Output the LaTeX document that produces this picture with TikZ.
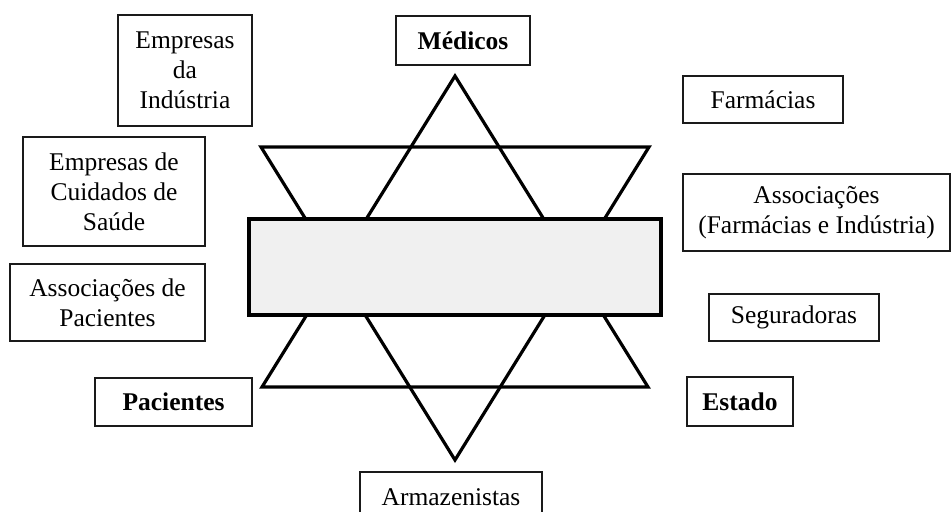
\documentclass[tikz,border=0pt]{standalone}
\usepackage{fontspec}
\setmainfont{Liberation Serif}
\definecolor{panelgray}{HTML}{F0F0F0}
\definecolor{edge}{HTML}{1A1A1A}
\begin{document}
\begin{tikzpicture}[x=1pt,y=-1pt,
  box/.style={draw=edge, line width=1.8pt, align=center, inner sep=0pt,
    font=\fontsize{25.5}{30}\selectfont},
  starline/.style={line width=3.2pt, line join=miter},
]
\clip (0,0) rectangle (952,511);
\fill[white] (0,0) rectangle (952,511);
% star of two triangles
\draw[starline] (455,76) -- (648,387) -- (262,387) -- cycle;
\draw[starline] (261,147) -- (649,147) -- (455,460) -- cycle;
% central panel
\node[draw, line width=3.8pt, fill=panelgray, minimum width=412pt, minimum height=96pt, inner sep=0pt] (panel) at (455,267) {};
% boxes
\node[box, minimum width=134pt, minimum height=111pt] (empind) at (185,70.5) {Empresas\\da\\Indústria};
\node[box, minimum width=134pt, minimum height=49pt] (medicos) at (463,40.5) {\bfseries Médicos};
\node[box, minimum width=160pt, minimum height=47pt] (farm) at (763,99.5) {Farmácias};
\node[box, minimum width=267pt, minimum height=77pt] (assocfi) at (816.5,212.5) {Associações\\(Farmácias e Indústria)};
\node[box, minimum width=182pt, minimum height=109pt] (empcuid) at (114,191.5) {Empresas de\\Cuidados de\\Saúde};
\node[box, minimum width=195pt, minimum height=77pt] (assocpac) at (107.5,302.5) {Associações de\\Pacientes};
\node[box, minimum width=157pt, minimum height=48pt] (pac) at (173.5,402) {\bfseries Pacientes};
\node[box, minimum width=170pt, minimum height=47pt] (seg) at (794,317.5) {Seguradoras};
\node[box, minimum width=106pt, minimum height=49pt] (estado) at (740,401.5) {\bfseries Estado};
\node[box, minimum width=182pt, minimum height=62pt] (armaz) at (451,503) {};
\node[font=\fontsize{25.5}{30}\selectfont, inner sep=0pt] (armaztext) at (451,497) {Armazenistas};
\end{tikzpicture}
\end{document}
